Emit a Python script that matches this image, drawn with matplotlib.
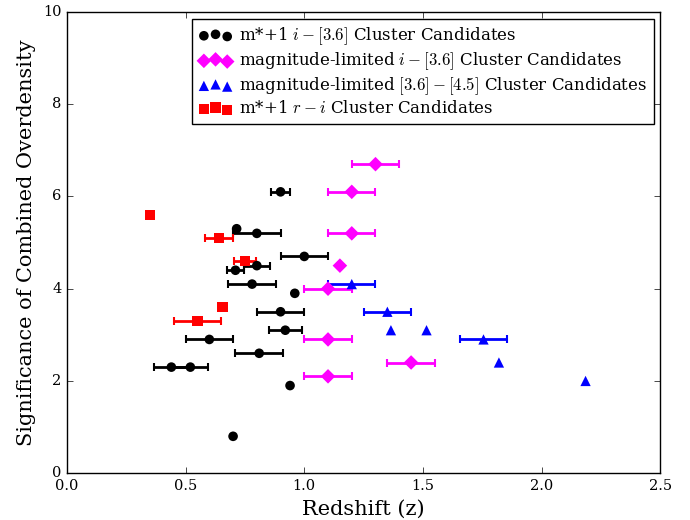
import numpy as np
import matplotlib
matplotlib.use('Agg')
import matplotlib.pyplot as plt

plt.style.use('classic')
plt.rcParams['font.family'] = 'serif'
plt.rcParams['font.serif'] = ['DejaVu Serif']
plt.rcParams['mathtext.fontset'] = 'cm'

# m*+1 i-[3.6]
z_blk = [0.90, 0.715, 0.80, 1.00, 0.80, 0.71, 0.78, 0.96, 0.90, 0.92, 0.60, 0.81, 0.44, 0.52, 0.94, 0.70]
s_blk = [6.1, 5.3, 5.2, 4.7, 4.5, 4.4, 4.1, 3.9, 3.5, 3.1, 2.9, 2.6, 2.3, 2.3, 1.9, 0.8]
e_blk = [0.04, 0, 0.1, 0.1, 0.055, 0.037, 0.1, 0, 0.1, 0.07, 0.1, 0.1, 0.075, 0.075, 0, 0]

# magnitude-limited i-[3.6]
z_mag = [1.30, 1.20, 1.20, 1.15, 1.10, 1.10, 1.45, 1.10]
s_mag = [6.7, 6.1, 5.2, 4.5, 4.0, 2.9, 2.4, 2.1]
e_mag = [0.1, 0.1, 0.1, 0, 0.1, 0.1, 0.1, 0.1]

# magnitude-limited [3.6]-[4.5]
z_blu = [1.20, 1.35, 1.365, 1.515, 1.755, 1.82, 2.185]
s_blu = [4.1, 3.5, 3.1, 3.1, 2.9, 2.4, 2.0]
e_blu = [0.1, 0.1, 0, 0, 0.1, 0, 0]

# m*+1 r-i
z_red = [0.35, 0.64, 0.75, 0.655, 0.55]
s_red = [5.6, 5.1, 4.6, 3.6, 3.3]
e_red = [0, 0.06, 0.045, 0, 0.1]

fig = plt.figure(figsize=(6.9, 5.2), dpi=100)
ax = fig.add_axes([0.097, 0.090, 0.860, 0.887])

def draw(z, s, e, color, marker, size, label):
    z = np.array(z); s = np.array(s); e = np.array(e)
    m = e > 0
    ax.errorbar(z[m], s[m], xerr=e[m], fmt='none', ecolor=color, elinewidth=2,
                capsize=3, capthick=1.5)
    ax.scatter(z, s, c=color, marker=marker, s=size, edgecolors='none', label=label, zorder=3)

draw(z_blk, s_blk, e_blk, 'k', 'o', 48, r'm*+1 $i-[3.6]$ Cluster Candidates')
draw(z_mag, s_mag, e_mag, '#ff00ff', 'D', 55, r'magnitude-limited $i-[3.6]$ Cluster Candidates')
draw(z_blu, s_blu, e_blu, '#0000ff', '^', 55, r'magnitude-limited $[3.6]-[4.5]$ Cluster Candidates')
draw(z_red, s_red, e_red, '#ff0000', 's', 55, r'm*+1 $r-i$ Cluster Candidates')

ax.set_xlim(0, 2.5)
ax.set_ylim(0, 10)
ax.set_xticks([0.0, 0.5, 1.0, 1.5, 2.0, 2.5])
ax.set_xticklabels(['0.0', '0.5', '1.0', '1.5', '2.0', '2.5'])
ax.set_yticks([0, 2, 4, 6, 8, 10])
ax.tick_params(labelsize=10.5)
ax.set_xlabel('Redshift (z)', fontsize=15)
ax.set_ylabel('Significance of Combined Overdensity', fontsize=15)
ax.legend(loc='upper right', fontsize=12, scatterpoints=3, handletextpad=0.4,
          borderaxespad=0.4, labelspacing=0.2)

fig.savefig('out.png', dpi=100)
